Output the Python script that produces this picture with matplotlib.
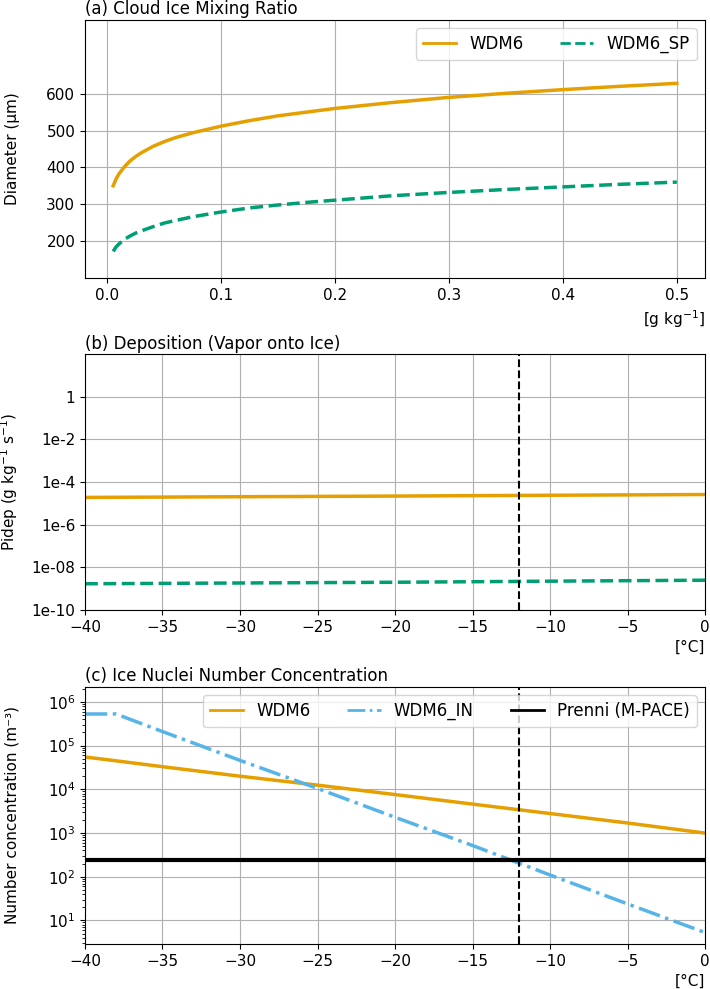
import numpy as np
import matplotlib
matplotlib.use('Agg')
from matplotlib import pyplot as plt
from matplotlib.ticker import NullLocator

plt.rcParams['xtick.labelsize'] = 11
plt.rcParams['ytick.labelsize'] = 11
plt.rcParams['axes.labelsize'] = 11

# (a) diameter vs cloud ice mixing ratio
qi = [0.005, 0.0075, 0.01, 0.015, 0.02, 0.025, 0.03, 0.04, 0.05, 0.06, 0.075,
      0.1, 0.125, 0.15, 0.175, 0.2, 0.25, 0.3, 0.35, 0.4, 0.45, 0.5]
diam_wdm6 = [350, 368, 382, 402, 418, 430, 440, 457, 470, 481, 494,
             512, 527, 540, 550, 560, 576, 590, 601, 611, 620, 628]
diam_sp = [172, 184, 192, 205, 214, 222, 228, 239, 249, 256, 266,
           279, 290, 298, 305, 311, 323, 332, 340, 347, 354, 360]

# (b) deposition rate vs temperature
temp_b = [-40, -30, -20, -10, 0]
pidep_wdm6 = [1.9e-5, 2.05e-5, 2.2e-5, 2.4e-5, 2.6e-5]
pidep_sp = [1.7e-9, 1.85e-9, 2.0e-9, 2.25e-9, 2.5e-9]

# (c) ice nuclei number concentration
temp_c = [-40, -38, -35, -30, -25, -20, -15, -10, -5, 0]
inn_wdm6 = [5.5e4, 4.5e4, 3.3e4, 2.0e4, 1.25e4, 7.6e3, 4.6e3, 2.8e3, 1.7e3, 1.0e3]
inn_in = [5.3e5, 5.3e5, 2.1e5, 4.6e4, 1.05e4, 2.3e3, 5.2e2, 1.1e2, 2.4e1, 5.3]
prenni = 240
t_line = -12

orange = '#E69F00'
green = '#009E73'
blue = '#56B4E9'

fig = plt.figure(figsize=(7.1, 9.89), dpi=100)
ax1 = fig.add_axes([0.1197, 0.719, 0.8733, 0.2608])
ax2 = fig.add_axes([0.1197, 0.3832, 0.8733, 0.2588])
ax3 = fig.add_axes([0.1197, 0.0455, 0.8733, 0.2599])

# panel a
ax1.plot(qi, diam_wdm6, color=orange, lw=2.5, label='WDM6')
ax1.plot(qi, diam_sp, color=green, lw=2.5, ls='--', label='WDM6_SP')
ax1.set_ylim(100, 800)
ax1.set_yticks([200, 300, 400, 500, 600])
ax1.set_title('(a) Cloud Ice Mixing Ratio', loc='left', fontsize=12, pad=4)
ax1.set_ylabel('Diameter (µm)')
ax1.set_xlabel('[g kg$^{-1}$]', loc='right')
ax1.grid(True)
leg1 = ax1.legend(loc='upper right', ncol=2, fontsize=12, columnspacing=2.2)
for l in leg1.get_lines():
    l.set_linewidth(2)

# panel b
ax2.plot(temp_b, pidep_wdm6, color=orange, lw=2.5)
ax2.plot(temp_b, pidep_sp, color=green, lw=2.5, ls='--')
ax2.axvline(t_line, color='k', ls='--', lw=1.5)
ax2.set_yscale('log')
ax2.set_ylim(1e-10, 1e2)
ax2.set_xlim(-40, 0)
ax2.set_yticks([1, 1e-2, 1e-4, 1e-6, 1e-8, 1e-10])
ax2.set_yticklabels(['1', '1e-2', '1e-4', '1e-6', '1e-08', '1e-10'])
ax2.yaxis.set_minor_locator(NullLocator())
ax2.set_title('(b) Deposition (Vapor onto Ice)', loc='left', fontsize=12, pad=4)
ax2.set_ylabel('Pidep (g kg$^{-1}$ s$^{-1}$)')
ax2.set_xlabel('[°C]', loc='right')
ax2.grid(True)

# panel c
ax3.plot(temp_c, inn_wdm6, color=orange, lw=2.5, label='WDM6')
ax3.plot(temp_c, inn_in, color=blue, lw=2.5, ls='-.', label='WDM6_IN')
ax3.axhline(prenni, color='k', lw=3, label='Prenni (M-PACE)')
ax3.axvline(t_line, color='k', ls='--', lw=1.5)
ax3.set_yscale('log')
ax3.set_ylim(2.9, 2.2e6)
ax3.set_xlim(-40, 0)
ax3.set_title('(c) Ice Nuclei Number Concentration', loc='left', fontsize=12, pad=4)
ax3.set_ylabel('Number concentration (m⁻³)')
ax3.set_xlabel('[°C]', loc='right')
ax3.grid(True)
leg3 = ax3.legend(loc='upper right', ncol=3, fontsize=12, columnspacing=2.2)
for l in leg3.get_lines():
    l.set_linewidth(2)

# ylabels lined up on the left edge
for ax in (ax1, ax2, ax3):
    ax.yaxis.set_label_coords(-0.105, 0.5)

fig.savefig('out.png', dpi=100)
